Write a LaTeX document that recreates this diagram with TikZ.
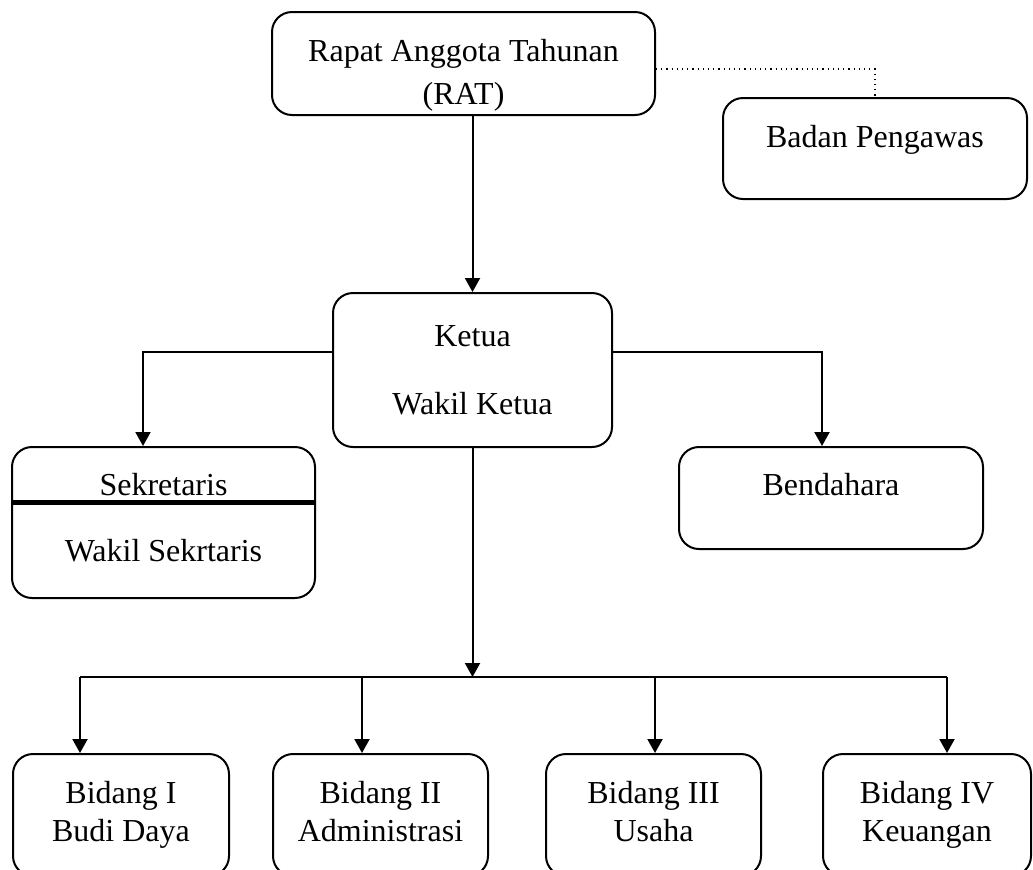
\documentclass[tikz,border=0pt]{standalone}
\usepackage{fontspec}
\setmainfont{Liberation Serif}
\usetikzlibrary{arrows.meta}
\usetikzlibrary{positioning}
\tikzstyle{kotak}=[
        draw,
        rectangle,
        rounded corners=10pt,
        line width=1pt,
        align=center,
        inner sep=0pt,
        font=\fontsize{16}{19.2}\selectfont
]
\tikzstyle{panah}=[-{Triangle[length=7pt,width=7.5pt]},line width=1pt]
\tikzstyle{garis}=[line width=1pt]
\tikzstyle{titik}=[dotted,line width=0.6pt]

\begin{document}
\begin{tikzpicture}[x=0.5pt,y=-0.5pt]
\clip (0,0) rectangle (1033,869);
\node[kotak,minimum width=191.5pt,minimum height=51.5pt] (rat) at (463.5,63.5) {\rule{0pt}{23pt}Rapat Anggota Tahunan\\[2.3pt](RAT)};
\node[kotak,minimum width=152pt,minimum height=50.5pt,text depth=12pt] (bp) at (875,148.5) {Badan Pengawas};
\node[kotak,minimum width=139.5pt,minimum height=77pt] (ketua) at (472.5,370) {Ketua\\[14.8pt]Wakil Ketua};
\node[kotak,minimum width=151.5pt,minimum height=75.5pt] (sek) at (163.5,522.5) {Sekretaris\\[13.8pt]Wakil Sekrtaris\rule[-5pt]{0pt}{5pt}};
\node[kotak,minimum width=152pt,minimum height=51pt,text depth=14pt] (bend) at (831,498) {Bendahara};
\node[kotak,minimum width=108pt,minimum height=61pt] (b1) at (121,815) {\strut Bidang I\\Budi Daya\strut};
\node[kotak,minimum width=107.5pt,minimum height=61pt] (b2) at (380.5,815) {\strut Bidang II\\Administrasi\strut};
\node[kotak,minimum width=107.5pt,minimum height=61pt] (b3) at (653.5,815) {\strut Bidang III\\Usaha\strut};
\node[kotak,minimum width=104pt,minimum height=61pt] (b4) at (927,815) {\strut Bidang IV\\Keuangan\strut};
%garis penghubung
\draw[line width=2.5pt] ([yshift=10.25pt]sek.west) -- ([yshift=10.25pt]sek.east);
\draw[titik] ([yshift=-2.75pt]rat.east) -| (bp.north);
\draw[panah] (rat.south -| ketua.north) -- (ketua.north);
\draw[panah] ([yshift=9pt]ketua.west) -| ([xshift=-10.25pt]sek.north);
\draw[panah] ([yshift=9pt]ketua.east) -| ([xshift=-4.5pt]bend.north);
\coordinate (cab) at (472.5,677);
\coordinate (t1) at (80,677);
\coordinate (t2) at (362,677);
\coordinate (t3) at (655,677);
\coordinate (t4) at (947,677);
\draw[panah] (ketua.south) -- (cab);
\draw[garis] (t1) -- (t4);
\foreach \t/\b in {t1/b1,t2/b2,t3/b3,t4/b4}
  \draw[panah] (\t) -- (\t |- \b.north);
\end{tikzpicture}
\end{document}
